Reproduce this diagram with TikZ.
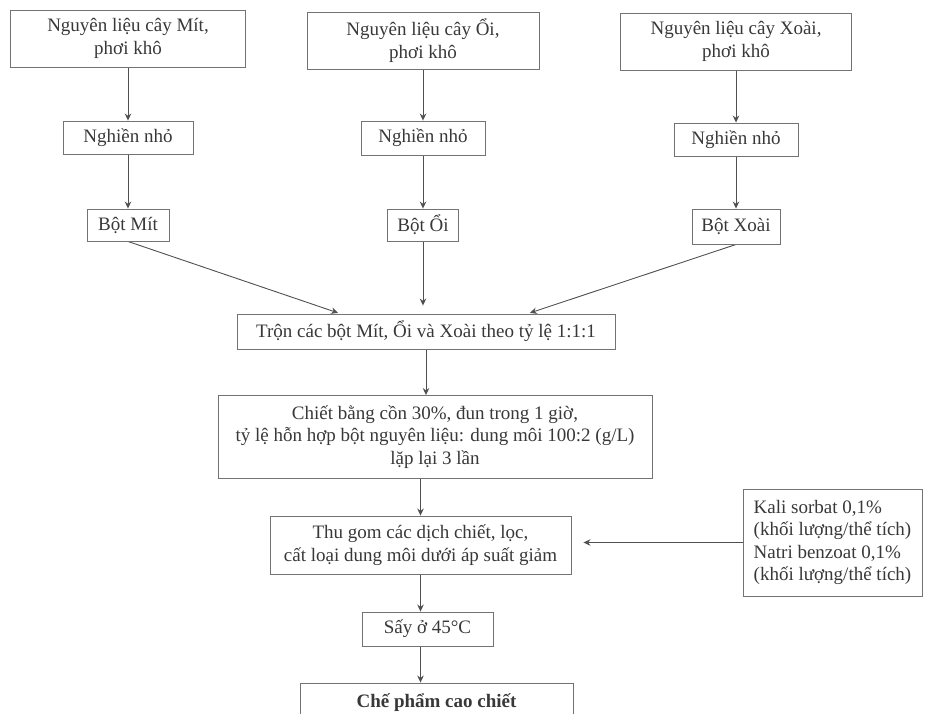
\documentclass[tikz,border=0pt]{standalone}
\usepackage{fontspec}
\setmainfont{Liberation Serif}
\usepackage{tikz}
\usetikzlibrary{arrows.meta}
\pgfdeclarelayer{bg}
\pgfsetlayers{bg,main}
\definecolor{lineg}{gray}{0.45}
\definecolor{textg}{gray}{0.22}
\tikzset{
  box/.style={draw=lineg, line width=0.9pt, rectangle, align=center, inner sep=2pt,
    text=textg, font=\fontsize{19}{22.5}\selectfont},
  arr/.style={draw=lineg!70!black, line width=0.9pt, -{Stealth[length=7pt,width=6.5pt]}}
}
\begin{document}
\begin{tikzpicture}[x=1pt, y=-1pt]
        \useasboundingbox (0,0) rectangle (928,713);
        \clip (0,0) rectangle (928,713);
        \node (m0) [box, minimum width=235pt, minimum height=57pt] at (128, 38.5) {Nguyên liệu cây Mít,\\ phơi khô};
        \node (o0) [box, minimum width=232pt, minimum height=57pt] at (423, 40.5) {Nguyên liệu cây Ổi,\\ phơi khô};
        \node (x0) [box, minimum width=231pt, minimum height=57pt] at (736, 41.5) {Nguyên liệu cây Xoài,\\ phơi khô};
        \node (m1) [box, minimum width=130pt, minimum height=33pt] at (128, 137.5) {Nghiền nhỏ};
        \node (o1) [box, minimum width=124pt, minimum height=34pt] at (423, 138) {Nghiền nhỏ};
        \node (x1) [box, minimum width=124pt, minimum height=33pt] at (736, 139.5) {Nghiền nhỏ};
        \node (m2) [box, minimum width=82pt, minimum height=32pt] at (128, 225) {Bột Mít};
        \node (o2) [box, minimum width=71pt, minimum height=32pt] at (423, 225) {Bột Ổi};
        \node (x2) [box, minimum width=88pt, minimum height=35pt] at (736, 226.5) {Bột Xoài};
        \node (mix) [box, minimum width=378pt, minimum height=35pt] at (426, 331.5) {Trộn các bột Mít, Ổi và Xoài theo tỷ lệ 1:1:1};
        \node (chiet) [box, minimum width=434pt, minimum height=83pt] at (435, 437) {Chiết bằng cồn 30\%, đun trong 1 giờ,\\ tỷ lệ hỗn hợp bột nguyên liệu: dung môi 100:2 (g/L)\\ lặp lại 3 lần};
        \node (thu) [box, minimum width=301pt, minimum height=58pt] at (420.5, 545) {Thu gom các dịch chiết, lọc,\\ cất loại dung môi dưới áp suất giảm};
        \node (say) [box, minimum width=131pt, minimum height=34pt] at (427.5, 629) {Sấy ở 45°C};
        \node (che) [box, minimum width=273pt, minimum height=40pt, font=\fontsize{19}{22.5}\selectfont\bfseries] at (436.5, 703) {Chế phẩm cao chiết};
        \node (kali) [box, align=left, minimum width=179pt, minimum height=107pt] at (832.5, 542.5) {Kali sorbat 0,1\%\\ (khối lượng/thể tích)\\ Natri benzoat 0,1\%\\ (khối lượng/thể tích)};
        \begin{pgfonlayer}{bg}
                \draw (m0) edge [arr] (m1);
                \draw (m1) edge [arr] (m2);
                \draw (o0) edge [arr] (o1);
                \draw (o1) edge [arr] (o2);
                \draw (x0) edge [arr] (x1);
                \draw (x1) edge [arr] (x2);
                \draw (m2.south) edge [arr, shorten >=2pt] ([xshift=-86pt]mix.north);
                \draw (o2) edge [arr, shorten >=8pt] (o2 |- mix.north);
                \draw (x2.south) edge [arr, shorten >=2pt] ([xshift=102pt]mix.north);
                \draw (mix) edge [arr] (mix |- chiet.north);
                \draw (thu |- chiet.south) edge [arr] (thu);
                \draw (thu) edge [arr] (thu |- say.north);
                \draw (thu |- say.south) edge [arr] (thu |- che.north);
                \draw (kali) edge [arr, shorten >=12pt] (kali -| thu.east);
        \end{pgfonlayer}
\end{tikzpicture}
\end{document}
